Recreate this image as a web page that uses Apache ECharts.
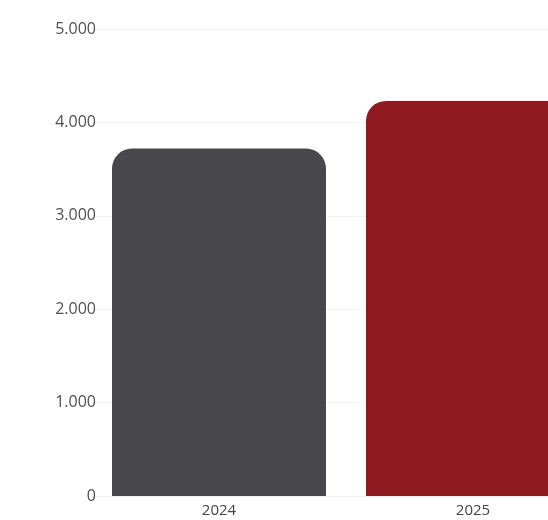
<!DOCTYPE html>
<html>
<head>
<meta charset="utf-8">
<script src="https://cdn.jsdelivr.net/npm/echarts@6/dist/echarts.min.js"></script>
<style>html,body{margin:0;padding:0;background:#fff}#c{width:548px;height:520px}</style>
</head>
<body>
<div id="c"></div>
<script>
const categories = ['2024', '2025'];
const values = [3720, 4230];
const barColors = ['#48484c', '#8e1a1f'];
const yTicks = [0, 1000, 2000, 3000, 4000, 5000];

const chart = echarts.init(document.getElementById('c'));
chart.setOption({
  animation: false,
  textStyle: { fontFamily: 'Open Sans' },
  grid: { left: 92, top: 29, bottom: 24, right: -52, outerBoundsMode: 'none', containLabel: false },
  xAxis: {
    type: 'category',
    data: categories,
    axisLine: { show: true, lineStyle: { color: '#eeeeee' } },
    axisTick: { show: false },
    axisLabel: { color: '#444', fontSize: 15, margin: 7 }
  },
  yAxis: {
    type: 'value',
    min: yTicks[0],
    max: yTicks[yTicks.length - 1],
    interval: 1000,
    axisLine: { show: false },
    axisTick: { show: false },
    splitLine: { lineStyle: { color: '#f3f3f3' } },
    axisLabel: {
      color: '#505050',
      fontSize: 16,
      margin: -4,
      formatter: v => v.toString().replace(/\B(?=(\d{3})+(?!\d))/g, '.')
    }
  },
  series: [{
    type: 'bar',
    data: values.map((v, i) => ({ value: v, itemStyle: { color: barColors[i] } })),
    barWidth: 214,
    itemStyle: { borderRadius: [20, 20, 0, 0] }
  }]
});
</script>
</body>
</html>
